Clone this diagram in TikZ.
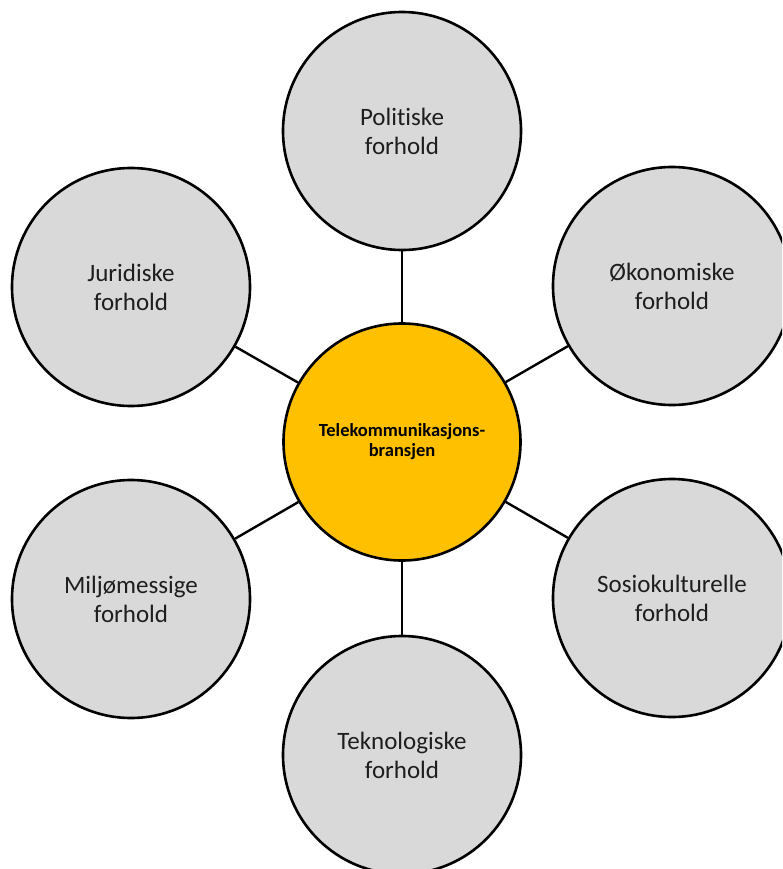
\documentclass[tikz,border=0pt]{standalone}
\usepackage{fontspec}
\setmainfont[Ligatures={NoCommon}]{Carlito}
\definecolor{outergray}{HTML}{D9D9D9}
\definecolor{hubyellow}{HTML}{FFC000}
\definecolor{textdark}{HTML}{1E1E1E}
\begin{document}
\begin{tikzpicture}[x=1pt,y=-1pt,
  outer/.style={circle,draw=black,line width=2.6pt,fill=outergray,minimum size=238pt,inner sep=0pt,align=center,font=\fontsize{25}{29}\selectfont,text=textdark},
  hub/.style={circle,draw=black,line width=2.6pt,fill=hubyellow,minimum size=237pt,inner sep=0pt,align=center,font=\bfseries\fontsize{18.5}{20}\selectfont,text=black},
  link/.style={line width=2.4pt,draw=black}]
\fill[white] (0,0) rectangle (782,869);
\useasboundingbox (0,0) rectangle (782,869);
\clip (0,0) rectangle (782,869);
\node[hub] (c) at (402,442) {Telekommunikasjons-\\bransjen};
\node[outer] (p) at (402,131) {Politiske\\forhold};
\node[outer] (o) at (672,286) {Økonomiske\\forhold};
\node[outer] (s) at (672,598) {Sosiokulturelle\\forhold};
\node[outer] (t) at (402,755) {Teknologiske\\forhold};
\node[outer] (m) at (131,599) {Miljømessige\\forhold};
\node[outer] (j) at (131,287) {Juridiske\\forhold};
\draw[link] (c) -- (p);
\draw[link] (c) -- (o);
\draw[link] (c) -- (s);
\draw[link] (c) -- (t);
\draw[link] (c) -- (m);
\draw[link] (c) -- (j);
\end{tikzpicture}
\end{document}
